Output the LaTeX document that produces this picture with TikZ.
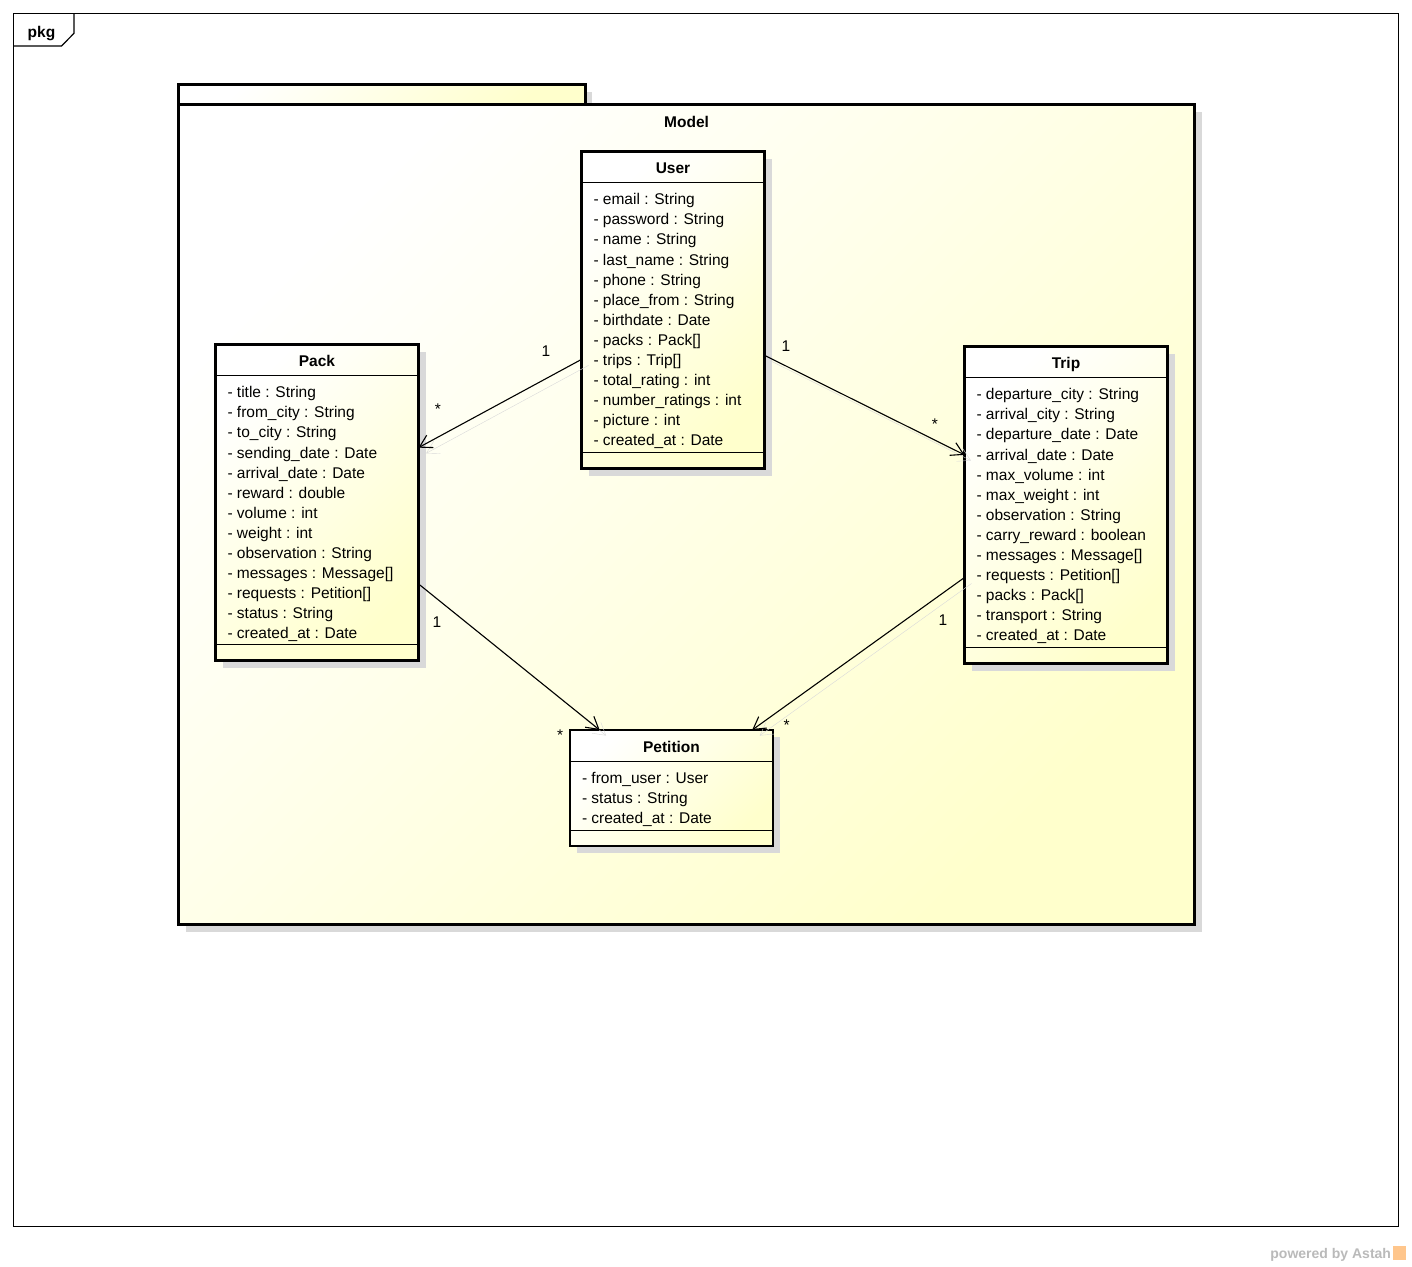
\documentclass[tikz,border=0pt]{standalone}
\usepackage{fontspec}
\setmainfont{Liberation Sans}
\usetikzlibrary{arrows.meta,shadows}

\definecolor{umlyellow}{HTML}{FFFFCC}
\definecolor{umlshadow}{HTML}{D9D9D9}

\begin{document}
\begin{tikzpicture}[x=1pt,y=-1pt,
  every node/.style={inner sep=0pt,outer sep=0pt,font=\fontsize{15.5}{20.1}\selectfont},
  umlbox/.style={draw,line width=2.5pt,top color=white,bottom color=umlyellow,shading angle=45,
    drop shadow={shadow xshift=7pt,shadow yshift=-7pt,fill=umlshadow,opacity=1}},
  umltitle/.style={anchor=base,font=\fontsize{15.5}{20.1}\selectfont\bfseries},
  umlattr/.style={anchor=north west,align=left},
  mult/.style={font=\fontsize{15.5}{18}\selectfont},
  assoc/.style={-{Straight Barb[length=12pt,width=14pt]},line width=1.1pt,
    preaction={draw=umlshadow,transform canvas={shift={(7pt,-6pt)}}}}]
\path[use as bounding box,fill=white] (0,0) rectangle (1412,1266);

\draw[line width=1.2pt] (13.3,13.3) rectangle (1398.3,1226.7);
\draw[line width=1.2pt] (13.3,46) -- (61.5,46) -- (74,33.3) -- (74,13.3);
\node[umltitle] (pkg) at (41.5,37) {pkg};

\node[umlbox,minimum width=406.6pt,minimum height=20pt] (model-tab) at (382,94.7) {};
\node[umlbox,minimum width=1015.8pt,minimum height=819.8pt] (model) at (686.6,514.6) {};
\node[umltitle] (model-name) at ([yshift=-23pt]model.north) {Model};

\node[umlbox,minimum width=183pt,minimum height=317pt] (user) at (673,310) {};
\node[umlbox,minimum width=203pt,minimum height=316pt] (pack) at (317,502.5) {};
\node[umlbox,minimum width=203pt,minimum height=317pt] (trip) at (1066,505) {};
\node[umlbox,minimum width=203pt,minimum height=116pt] (petition) at (671.5,788) {};

\foreach \c in {user,pack,trip,petition}
  \draw[line width=1pt] ([yshift=-31pt]\c.north west) -- ([yshift=-31pt]\c.north east)
    ([yshift=16pt]\c.south west) -- ([yshift=16pt]\c.south east);

\node[umltitle] (user-name) at ([yshift=-22pt]user.north) {User};
\node[umlattr] (user-attrs) at ([xshift=12pt,yshift=-42pt]user.north west)
  {- email : String\\- password : String\\- name : String\\- last\_name : String\\
   - phone : String\\- place\_from : String\\- birthdate : Date\\- packs : Pack[]\\
   - trips : Trip[]\\- total\_rating : int\\- number\_ratings : int\\- picture : int\\
   - created\_at : Date};

\node[umltitle] (pack-name) at ([yshift=-22pt]pack.north) {Pack};
\node[umlattr] (pack-attrs) at ([xshift=12pt,yshift=-42pt]pack.north west)
  {- title : String\\- from\_city : String\\- to\_city : String\\- sending\_date : Date\\
   - arrival\_date : Date\\- reward : double\\- volume : int\\- weight : int\\
   - observation : String\\- messages : Message[]\\- requests : Petition[]\\
   - status : String\\- created\_at : Date};

\node[umltitle] (trip-name) at ([yshift=-22pt]trip.north) {Trip};
\node[umlattr] (trip-attrs) at ([xshift=12pt,yshift=-42pt]trip.north west)
  {- departure\_city : String\\- arrival\_city : String\\- departure\_date : Date\\
   - arrival\_date : Date\\- max\_volume : int\\- max\_weight : int\\
   - observation : String\\- carry\_reward : boolean\\- messages : Message[]\\
   - requests : Petition[]\\- packs : Pack[]\\- transport : String\\- created\_at : Date};

\node[umltitle] (petition-name) at ([yshift=-22pt]petition.north) {Petition};
\node[umlattr] (petition-attrs) at ([xshift=12pt,yshift=-42pt]petition.north west)
  {- from\_user : User\\- status : String\\- created\_at : Date};

\draw[assoc] (user) -- node[mult,pos=0,xshift=-35.5pt,yshift=8.5pt] (user-pack-one) {1}
  node[mult,pos=1,xshift=19.5pt,yshift=38.6pt] (user-pack-many) {*} (pack);
\draw[assoc] (user) -- node[mult,pos=0,xshift=21.5pt,yshift=9.4pt] (user-trip-one) {1}
  node[mult,pos=1,xshift=-29.5pt,yshift=30.6pt] (user-trip-many) {*} (trip);
\draw[assoc] (pack) -- node[mult,pos=0,xshift=18.5pt,yshift=-37.8pt] (pack-pet-one) {1}
  node[mult,pos=1,xshift=-39.5pt,yshift=-5pt] (pack-pet-many) {*} (petition);
\draw[assoc] (trip) -- node[mult,pos=0,xshift=-21.5pt,yshift=-42.2pt] (trip-pet-one) {1}
  node[mult,pos=1,xshift=34.6pt,yshift=5pt] (trip-pet-many) {*} (petition);

\node[anchor=base east,font=\fontsize{14}{16}\selectfont\bfseries,text=black!27] (astah) at (1391,1258) {powered by Astah};
\fill[orange!45] (1393,1246) rectangle (1406,1260);
\end{tikzpicture}
\end{document}
